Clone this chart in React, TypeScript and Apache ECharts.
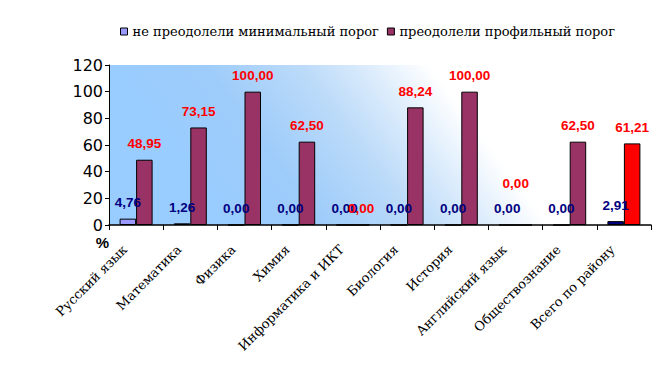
import React, { useEffect, useRef } from "react";
import * as echarts from "echarts";

const categories = [
  "Русский язык",
  "Математика",
  "Физика",
  "Химия",
  "Информатика и ИКТ",
  "Биология",
  "История",
  "Английский язык",
  "Обществознание",
  "Всего по району",
];
const notPassedMin = [4.76, 1.26, 0, 0, 0, 0, 0, 0, 0, 2.91];
const passedProfile = [48.95, 73.15, 100, 62.5, 0, 88.24, 100, 0, 62.5, 61.21];
const seriesNames = ["не преодолели минимальный порог", "преодолели профильный порог"];
const yTicks = { min: 0, max: 120, interval: 20 };

const fmt = (v: number) => v.toFixed(2).replace(".", ",");

export default function App() {
  const ref = useRef<HTMLDivElement>(null);
  useEffect(() => {
    if (!ref.current) return;
    const chart = echarts.init(ref.current, undefined, { renderer: "svg" });
    const lastIdx = categories.length - 1;
    const s1 = notPassedMin.map((v, i) =>
      i === lastIdx ? { value: v, itemStyle: { color: "#000080" } } : { value: v }
    );
    const s2 = passedProfile.map((v, i) => {
      if (i === lastIdx) return { value: v, itemStyle: { color: "#FF0000" } };
      if (i === 7) return { value: v, label: { offset: [-8, -25] } };
      return { value: v };
    });
    const labelBase = {
      show: true,
      position: "top",
      distance: 9,
      fontFamily: "Liberation Sans, Arial, sans-serif",
      fontWeight: "bold",
      fontSize: 13.5,
      formatter: (p: any) => fmt(p.value),
    };
    chart.setOption({
      animation: false,
      backgroundColor: "#ffffff",
      legend: {
        left: 115,
        top: 20,
        icon: "rect",
        itemWidth: 7,
        itemHeight: 7,
        itemGap: 8,
        itemStyle: { borderColor: "#000", borderWidth: 1 },
        textStyle: { fontFamily: "DejaVu Serif", fontSize: 13, color: "#000" },
        data: seriesNames,
      },
      grid: {
        left: 109,
        right: 19,
        top: 65,
        bottom: 154,
        show: true,
        borderWidth: 0,
        backgroundColor: {
          type: "linear",
          x: 0,
          y: 0,
          x2: 0.563,
          y2: -0.125,
          colorStops: [
            { offset: 0, color: "#99CCFF" },
            { offset: 0.3, color: "#9ECCFA" },
            { offset: 0.6, color: "#BCDBF9" },
            { offset: 0.8, color: "#DCECFC" },
            { offset: 1, color: "#FFFFFF" },
          ],
        },
      },
      xAxis: {
        type: "category",
        data: categories,
        axisLine: { show: true, lineStyle: { color: "#000", width: 1.5 } },
        axisTick: { show: true, length: 5, lineStyle: { color: "#000" } },
        axisLabel: {
          rotate: 45,
          interval: 0,
          margin: 11,
          padding: [0, 16, 0, 0],
          fontFamily: "DejaVu Serif",
          fontSize: 13,
          color: "#000",
        },
      },
      yAxis: {
        type: "value",
        min: yTicks.min,
        max: yTicks.max,
        interval: yTicks.interval,
        name: "%",
        nameLocation: "start",
        nameGap: 10,
        nameMoveOverlap: false,
        nameTextStyle: {
          fontFamily: "Liberation Sans, Arial, sans-serif",
          fontWeight: "bold",
          fontSize: 15,
          color: "#000",
          align: "right",
        },
        axisLine: { show: true, lineStyle: { color: "#000", width: 1 } },
        axisTick: { show: true, length: 4, lineStyle: { color: "#000" } },
        splitLine: { show: false },
        axisLabel: {
          margin: 6,
          fontFamily: "DejaVu Sans",
          fontSize: 16,
          color: "#000",
        },
      },
      series: [
        {
          name: seriesNames[0],
          type: "bar",
          data: s1,
          barWidth: 16.5,
          barGap: "0%",
          itemStyle: { color: "#9999FF", borderColor: "#000", borderWidth: 1 },
          label: { ...labelBase, color: "#000080" },
        },
        {
          name: seriesNames[1],
          type: "bar",
          data: s2,
          barWidth: 16.5,
          barGap: "0%",
          itemStyle: { color: "#993366", borderColor: "#000", borderWidth: 1 },
          label: { ...labelBase, color: "#FF0000" },
        },
      ],
    });
    return () => chart.dispose();
  }, []);
  return (
    <div
      ref={ref}
      style={{ position: "fixed", left: 0, top: 0, width: 670, height: 379 }}
    />
  );
}
